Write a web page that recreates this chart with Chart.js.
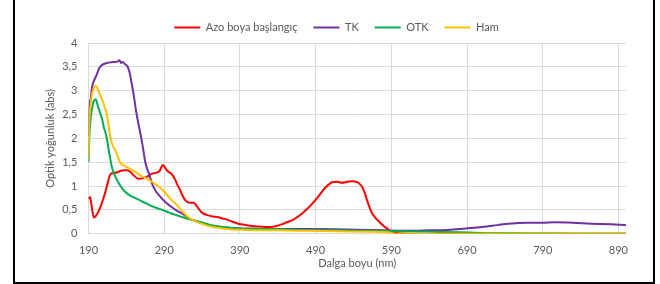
<!DOCTYPE html>
<html>
<head>
<meta charset="utf-8">
<script src="https://cdn.jsdelivr.net/npm/chart.js@4.4.1/dist/chart.umd.min.js"></script>
<style>
  html, body { margin: 0; padding: 0; background: #fff; }
  #wrap { position: relative; width: 660px; height: 284px; overflow: hidden; }
  #frame { position: absolute; left: 13px; top: -10px; width: 642px; height: 294px; border: 2px solid #000; box-sizing: border-box; }
  canvas { position: absolute; left: 0; top: 0; }
</style>
</head>
<body>
<div id="wrap">
  <canvas id="chart" width="660" height="284"></canvas>
  <div id="frame"></div>
</div>
<script>
// wavelength (nm) / absorbance for each sample
const azoNm  = [190,192,194,197,199,202,205,208,212,215,219,223,228,233,237,241,245,250,256,261,265,270,274,280,284,288,291,294,300,304,307,310,313,318,324,329,333,337,341,347,354,360,367,374,380,388,398,406,416,425,433,440,446,452,460,468,477,485,494,503,508,512,518,525,532,538,545,549,552,555,558,562,565,569,574,580,585,590,600,620,640,660,680,700,800,900];
const azoAbs = [0.73,0.77,0.6,0.34,0.36,0.43,0.53,0.66,0.86,1.04,1.25,1.27,1.29,1.32,1.33,1.33,1.3,1.22,1.15,1.16,1.18,1.22,1.26,1.28,1.32,1.44,1.39,1.32,1.25,1.15,1.04,0.95,0.84,0.7,0.65,0.65,0.58,0.49,0.43,0.39,0.36,0.35,0.32,0.29,0.25,0.21,0.18,0.16,0.15,0.14,0.145,0.17,0.2,0.24,0.29,0.37,0.49,0.62,0.79,0.97,1.04,1.08,1.09,1.07,1.09,1.1,1.08,1.03,0.97,0.85,0.7,0.52,0.42,0.33,0.25,0.16,0.1,0.05,0.01,-0.01,-0.02,-0.01,0,0,0,0];

const tkNm  = [190,191,193,195,197,201,204,207,214,222,228,231,233,235,238,241,243,245,247,249,253,256,258,262,265,270,276,285,291,298,307,316,324,335,345,354,370,390,420,480,530,580,610,640,665,688,710,730,745,770,790,805,830,854,880,900];
const tkAbs = [2.05,2.6,2.85,3.1,3.2,3.34,3.47,3.53,3.58,3.6,3.61,3.64,3.58,3.6,3.56,3.52,3.45,3.33,3.15,2.98,2.56,2.3,2.15,1.8,1.5,1.25,0.97,0.77,0.67,0.58,0.48,0.4,0.31,0.25,0.2,0.16,0.13,0.11,0.1,0.1,0.09,0.07,0.06,0.07,0.08,0.11,0.14,0.18,0.21,0.23,0.23,0.24,0.23,0.21,0.2,0.18];

const otkNm  = [190,191,193,195,197,199.5,202,205,208,210,214,217,221,226,231,237,245,254,263,272,280,289,297,306,318,329,341,354,370,389,420,470,520,560,600,640,680,700,720,900];
const otkAbs = [1.5,2.0,2.45,2.65,2.78,2.82,2.7,2.55,2.4,2.25,2.02,1.73,1.39,1.18,1.03,0.9,0.8,0.73,0.66,0.59,0.54,0.49,0.44,0.39,0.33,0.28,0.23,0.17,0.14,0.11,0.1,0.08,0.07,0.06,0.05,0.04,0.03,0.02,0.01,0];

const hamNm  = [190,191,193,195,198,200,203,205,208,212,215,219,222,226,229,232,238,245,252,259,265,272,280,289,295,300,307,315,323,330,341,354,367,380,398,440,480,520,560,585,595,900];
const hamAbs = [1.6,2.3,2.75,2.95,3.08,3.1,3.0,2.92,2.82,2.62,2.44,2.02,1.85,1.73,1.6,1.49,1.42,1.36,1.3,1.22,1.17,1.11,1.02,0.9,0.79,0.7,0.6,0.45,0.33,0.27,0.2,0.14,0.11,0.09,0.08,0.07,0.06,0.05,0.04,0.03,0,0];

const seriesNames = ['Azo boya başlangıç', 'TK', 'OTK', 'Ham'];
const xTicks = [190, 290, 390, 490, 590, 690, 790, 890];

function pairs(xs, ys) {
  return xs.map((x, i) => ({ x: x, y: ys[i] }));
}

function line(label, xs, ys, color, order) {
  return {
    label: label,
    data: pairs(xs, ys),
    borderColor: color,
    backgroundColor: color,
    borderWidth: 2,
    pointRadius: 0,
    cubicInterpolationMode: 'monotone',
    order: order
  };
}

const txt = '#595959';
const gridCol = '#d9d9d9';
const font = { family: 'Lato', size: 11 };

new Chart(document.getElementById('chart'), {
  type: 'line',
  data: {
    datasets: [
      line(seriesNames[0], azoNm, azoAbs, '#ff0000', 3),
      line(seriesNames[1], tkNm, tkAbs, '#7030a0', 2),
      line(seriesNames[2], otkNm, otkAbs, '#00b050', 1),
      line(seriesNames[3], hamNm, hamAbs, '#ffc000', 0)
    ]
  },
  options: {
    responsive: false,
    animation: false,
    layout: { padding: { left: 13, right: 0, top: 6, bottom: 14 } },
    plugins: {
      tooltip: { enabled: false },
      legend: {
        position: 'top',
        labels: {
          font: font,
          color: txt,
          boxWidth: 26,
          boxHeight: 2,
          padding: 16,
          sort: (a, b) => a.datasetIndex - b.datasetIndex,
          generateLabels: function(chart) {
            const items = Chart.defaults.plugins.legend.labels.generateLabels(chart);
            items.forEach(it => { it.lineWidth = 0; it.fillStyle = it.strokeStyle; });
            return items;
          }
        }
      }
    },
    scales: {
      x: {
        type: 'linear',
        min: 190,
        max: 900,
        afterBuildTicks: s => { s.ticks = xTicks.map(v => ({ value: v })); },
        afterFit: s => { s.height = 36.3; s.paddingRight = 34; },
        grid: { color: gridCol, drawTicks: false },
        border: { color: gridCol },
        ticks: { font: font, color: txt, padding: 10, maxRotation: 0 },
        title: { display: true, text: 'Dalga boyu (nm)', font: font, color: txt, padding: { top: 0, bottom: 0 } }
      },
      y: {
        min: 0,
        max: 4,
        afterFit: s => { s.width = 75.5; s.paddingTop = 40.7; },
        grid: { color: gridCol, drawTicks: false },
        border: { display: false },
        ticks: {
          stepSize: 0.5,
          font: font,
          color: txt,
          padding: 11,
          callback: v => String(v).replace('.', ',')
        },
        title: { display: true, text: 'Optik yoğunluk (abs)', font: font, color: txt, padding: { top: 30.4, bottom: 0 } }
      }
    }
  }
});
</script>
</body>
</html>
